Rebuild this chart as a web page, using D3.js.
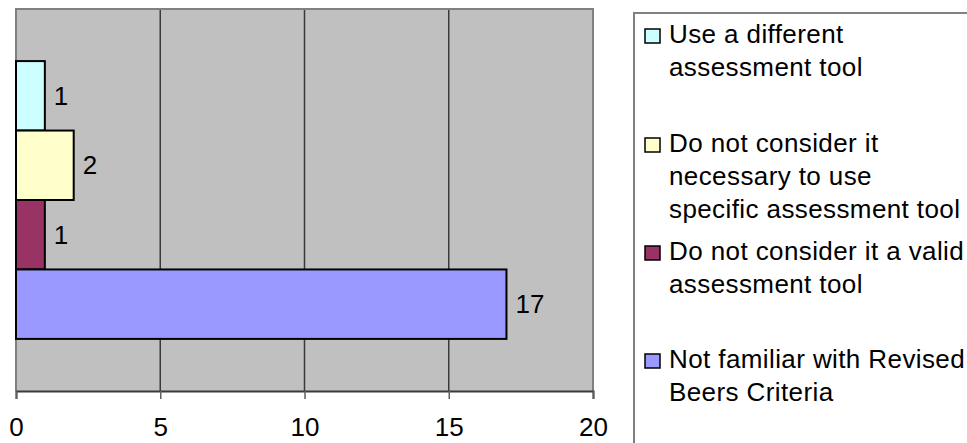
<!DOCTYPE html>
<html>
<head>
<meta charset="utf-8">
<script src="https://cdn.jsdelivr.net/npm/d3@7/dist/d3.min.js"></script>
<style>
  html, body { margin: 0; padding: 0; background: #ffffff; }
  svg { display: block; }
  text { font-family: "Liberation Sans", Arial, sans-serif; fill: #000; }
</style>
</head>
<body>
<svg id="chart" width="967" height="443"></svg>
<script>
// Reasons given, top to bottom, with their counts
const categories = [
  "Use a different assessment tool",
  "Do not consider it necessary to use specific assessment tool",
  "Do not consider it a valid assessment tool",
  "Not familiar with Revised Beers Criteria"
];
const values = [1, 2, 1, 17];
const legendLines = [
  ["Use a different", "assessment tool"],
  ["Do not consider it", "necessary to use", "specific assessment tool"],
  ["Do not consider it a valid", "assessment tool"],
  ["Not familiar with Revised", "Beers Criteria"]
];
const colors = ["#CCFFFF", "#FFFFCC", "#993366", "#9999FF"];
const xTicks = [0, 5, 10, 15, 20];

const svg = d3.select("#chart");
const plot = { left: 16, right: 593, top: 9, bottom: 391 };
const fontSize = 26;

const x = d3.scaleLinear().domain([0, 20]).range([plot.left, plot.right]);
const y = d3.scaleBand()
  .domain(categories)
  .range([plot.top, plot.bottom])
  .paddingInner(0)
  .paddingOuter(0.75);

// plot background
svg.append("rect")
  .attr("x", plot.left).attr("y", plot.top)
  .attr("width", plot.right - plot.left).attr("height", plot.bottom - plot.top)
  .attr("fill", "#C0C0C0");

// vertical gridlines
svg.append("g").selectAll("line")
  .data(xTicks.filter(t => t > 0 && t < 20))
  .join("line")
  .attr("x1", d => x(d)).attr("x2", d => x(d))
  .attr("y1", plot.top).attr("y2", plot.bottom)
  .attr("stroke", "#3a3a3a").attr("stroke-width", 1.5);

// plot frame (top, left, right)
svg.append("path")
  .attr("d", `M${plot.left},${plot.bottom}V${plot.top}H${plot.right}V${plot.bottom}`)
  .attr("fill", "none").attr("stroke", "#808080").attr("stroke-width", 2);

// bars
svg.append("g").selectAll("rect")
  .data(categories)
  .join("rect")
  .attr("x", x(0))
  .attr("y", d => y(d))
  .attr("width", (d, i) => x(values[i]) - x(0))
  .attr("height", y.bandwidth())
  .attr("fill", (d, i) => colors[i])
  .attr("stroke", "#000").attr("stroke-width", 2);

// value labels
svg.append("g").selectAll("text")
  .data(categories)
  .join("text")
  .attr("x", (d, i) => x(values[i]) + 9)
  .attr("y", d => y(d) + y.bandwidth() / 2 + 9)
  .attr("font-size", fontSize)
  .text((d, i) => values[i]);

// x axis
const xAxis = d3.axisBottom(x).tickValues(xTicks).tickSize(8).tickPadding(19);
const gx = svg.append("g")
  .attr("transform", `translate(0,${plot.bottom})`)
  .call(xAxis);
gx.select(".domain").attr("stroke", "#3a3a3a").attr("stroke-width", 2);
gx.selectAll(".tick line").attr("stroke", "#606060").attr("stroke-width", 1.5);
gx.selectAll(".tick text")
  .attr("font-size", fontSize)
  .attr("font-family", "Liberation Sans, Arial, sans-serif")
  .attr("fill", "#000");

// legend
const legend = svg.append("g");
legend.append("path")
  .attr("d", `M634,443V13H967`)
  .attr("fill", "none").attr("stroke", "#808080").attr("stroke-width", 2);

const itemTop = [43, 152, 260, 368];
const lineGap = 33;
const items = legend.selectAll("g.item")
  .data(categories)
  .join("g")
  .attr("class", "item")
  .attr("transform", (d, i) => `translate(0,${itemTop[i]})`);

items.append("rect")
  .attr("x", 645).attr("y", -14)
  .attr("width", 15).attr("height", 14)
  .attr("fill", (d, i) => colors[i])
  .attr("stroke", "#000").attr("stroke-width", 1.5);

items.append("text")
  .attr("font-size", fontSize)
  .attr("letter-spacing", 0.4)
  .selectAll("tspan")
  .data((d, i) => legendLines[i])
  .join("tspan")
  .attr("x", 669)
  .attr("y", (d, j) => j * lineGap)
  .text(d => d);
</script>
</body>
</html>
